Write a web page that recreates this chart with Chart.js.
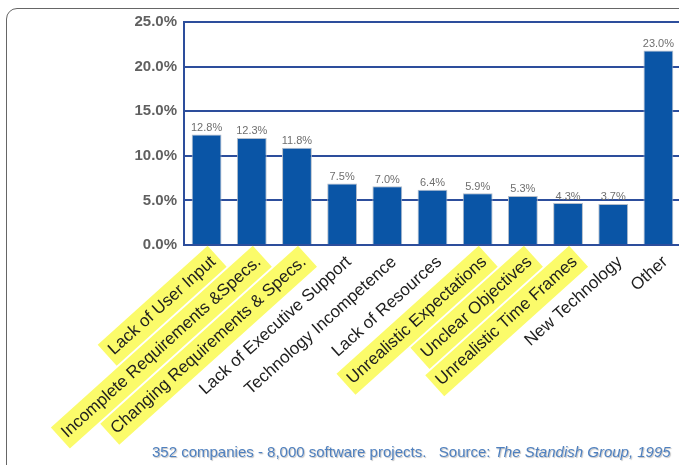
<!DOCTYPE html>
<html>
<head>
    <title>Project Impaired Factors</title>
    <script src="https://cdn.jsdelivr.net/npm/chart.js"></script>
    <style>
        body {
            margin: 0;
            padding: 0;
            width: 679px;
            height: 465px;
            overflow: hidden;
            background: #fff;
            font-family: 'Liberation Sans', Arial, sans-serif;
            position: relative;
        }
        .frame {
            position: absolute;
            left: 6px;
            top: 8px;
            width: 800px;
            height: 600px;
            border: 1px solid #666;
            border-radius: 11px;
        }
        .chart-box {
            position: absolute;
            left: 0;
            top: 0;
            width: 690px;
            height: 465px;
        }
        .source {
            position: absolute;
            left: 152px;
            top: 443px;
            font-size: 15px;
            color: #4f80bf;
            white-space: pre;
            text-shadow: 1px 1px 1px rgba(0, 0, 0, 0.25);
        }
    </style>
</head>
<body>
    <div class="frame"></div>
    <div class="chart-box">
        <canvas id="factorChart"></canvas>
    </div>
    <div class="source">352 companies - 8,000 software projects.   Source: <i>The Standish Group, 1995</i></div>

    <script>
        // categories, in the order shown
        const categories = [
            'Lack of User Input',
            'Incomplete Requirements &Specs.',
            'Changing Requirements & Specs.',
            'Lack of Executive Support',
            'Technology Incompetence',
            'Lack of Resources',
            'Unrealistic Expectations',
            'Unclear Objectives',
            'Unrealistic Time Frames',
            'New Technology',
            'Other'
        ];
        // bar heights as drawn (percent)
        const barValues = [12.4, 12.0, 10.9, 6.9, 6.6, 6.2, 5.8, 5.5, 4.7, 4.6, 21.8];
        // the numbers printed over the bars
        const valueLabels = ['12.8%', '12.3%', '11.8%', '7.5%', '7.0%', '6.4%', '5.9%', '5.3%', '4.3%', '3.7%', '23.0%'];
        // which category labels are highlighted in yellow
        const highlighted = [true, true, true, false, false, false, true, true, true, false, false];
        const yTicks = [0, 5, 10, 15, 20, 25];

        const navy = '#2d4e9c';
        const fontFamily = "'Liberation Sans', Arial, sans-serif";

        // draws the printed value over each bar
        const valueLabelPlugin = {
            id: 'valueLabels',
            afterDatasetsDraw(chart) {
                const ctx = chart.ctx;
                const meta = chart.getDatasetMeta(0);
                ctx.save();
                ctx.font = '11px ' + fontFamily;
                ctx.fillStyle = '#6f6f6f';
                ctx.textAlign = 'center';
                ctx.textBaseline = 'bottom';
                meta.data.forEach(function(bar, i) {
                    ctx.fillText(valueLabels[i], bar.x, bar.y - 1);
                });
                ctx.restore();
            }
        };

        const ctx = document.getElementById('factorChart').getContext('2d');
        const factorChart = new Chart(ctx, {
            type: 'bar',
            data: {
                labels: categories,
                datasets: [{
                    data: barValues,
                    backgroundColor: '#0a55a6',
                    borderColor: '#b4bdca',
                    borderWidth: 1,
                    barPercentage: 0.66,
                    categoryPercentage: 1
                }]
            },
            options: {
                responsive: true,
                maintainAspectRatio: false,
                animation: false,
                layout: {
                    padding: { top: 22, right: 9, bottom: 0, left: 0 }
                },
                plugins: {
                    legend: { display: false },
                    tooltip: { enabled: false }
                },
                scales: {
                    x: {
                        grid: { display: false, drawTicks: false },
                        border: { color: navy, width: 2 },
                        afterFit(scale) { scale.height = 220; },
                        ticks: {
                            autoSkip: false,
                            minRotation: 42,
                            maxRotation: 42,
                            padding: 7,
                            color: '#1e1e1e',
                            font: { family: fontFamily, size: 17 },
                            showLabelBackdrop: true,
                            backdropColor: c => highlighted[c.index] ? '#fbfb6a' : 'rgba(0,0,0,0)',
                            backdropPadding: { x: 5, y: 4 }
                        }
                    },
                    y: {
                        min: 0,
                        max: 25,
                        afterFit(scale) { scale.width = 184; },
                        afterBuildTicks(scale) {
                            scale.ticks = yTicks.map(v => ({ value: v }));
                        },
                        grid: { color: navy, lineWidth: 2, drawTicks: false },
                        border: { color: navy, width: 2 },
                        ticks: {
                            padding: 7,
                            color: '#606060',
                            font: { family: fontFamily, size: 15, weight: 'bold' },
                            callback: v => v.toFixed(1) + '%'
                        }
                    }
                }
            },
            plugins: [valueLabelPlugin]
        });
    </script>
</body>
</html>
